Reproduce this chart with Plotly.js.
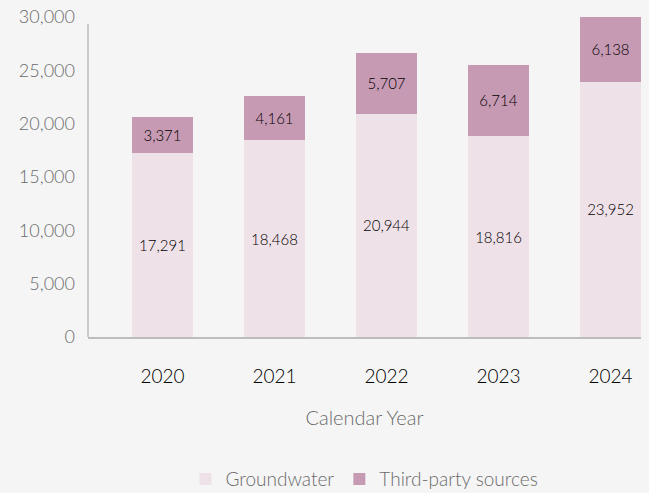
<!DOCTYPE html>
<html>
<head>
<meta charset="utf-8">
<script src="https://cdn.plot.ly/plotly-3.0.1.min.js"></script>
<style>html,body{margin:0;padding:0;background:#f5f5f5;}#chart{width:649px;height:493px;}</style>
</head>
<body>
<div id="chart"></div>
<script>
const years = ["2020", "2021", "2022", "2023", "2024"];
const groundwater = [17291, 18468, 20944, 18816, 23952];
const thirdParty = [3371, 4161, 5707, 6714, 6138];
const yTicks = [0, 5000, 10000, 15000, 20000, 25000, 30000];

const font = "Lato, 'Open Sans', sans-serif";
const traces = [
  {
    type: "bar", name: "Groundwater", x: years, y: groundwater,
    marker: {color: "#efe1e8"},
    text: groundwater.map(v => v.toLocaleString("en-US")),
    textposition: "inside", insidetextanchor: "middle",
    textfont: {family: font, size: 15, color: "#000", weight: 300},
    hoverinfo: "skip"
  },
  {
    type: "bar", name: "Third-party sources", x: years, y: thirdParty,
    marker: {color: "#c79ab4"},
    text: thirdParty.map(v => v.toLocaleString("en-US")),
    textposition: "inside", insidetextanchor: "middle",
    textfont: {family: font, size: 15, color: "#000", weight: 300},
    hoverinfo: "skip"
  }
];
const layout = {
  width: 649, height: 493,
  paper_bgcolor: "#f5f5f5", plot_bgcolor: "#f5f5f5",
  margin: {l: 88, r: 8, t: 17, b: 156, autoexpand: false},
  barmode: "stack", bargap: 0.455,
  font: {family: font, color: "#6b6b6b"},
  showlegend: true,
  legend: {orientation: "h", x: 0.5, xanchor: "center", y: -0.444, yanchor: "middle",
           font: {family: font, size: 19, color: "#6b6b6b", weight: 300}, traceorder: "normal"},
  shapes: [
    {type: "line", xref: "paper", yref: "paper", x0: 0, x1: 0, y0: 0, y1: 0.978,
     line: {color: "#bdbdbd", width: 1.5}}
  ],
  xaxis: {
    type: "category", range: [-0.665, 4.272], automargin: false,
    showline: true, linecolor: "#bdbdbd", linewidth: 1.5,
    ticks: "", showgrid: false, zeroline: false,
    tickfont: {family: font, size: 19, color: "#000", weight: 300},
    ticklabelstandoff: 22,
    title: {text: "Calendar Year", font: {family: font, size: 20, color: "#6b6b6b", weight: 300}, standoff: 24}
  },
  yaxis: {
    range: [0, 30000], tickvals: yTicks, automargin: false,
    ticktext: yTicks.map(v => v.toLocaleString("en-US")),
    showline: false,
    ticks: "", showgrid: false, zeroline: false,
    tickfont: {family: font, size: 18, color: "#6b6b6b", weight: 300},
    ticklabelstandoff: 12
  }
};
Plotly.newPlot("chart", traces, layout, {displayModeBar: false, staticPlot: true});
</script>
</body>
</html>
